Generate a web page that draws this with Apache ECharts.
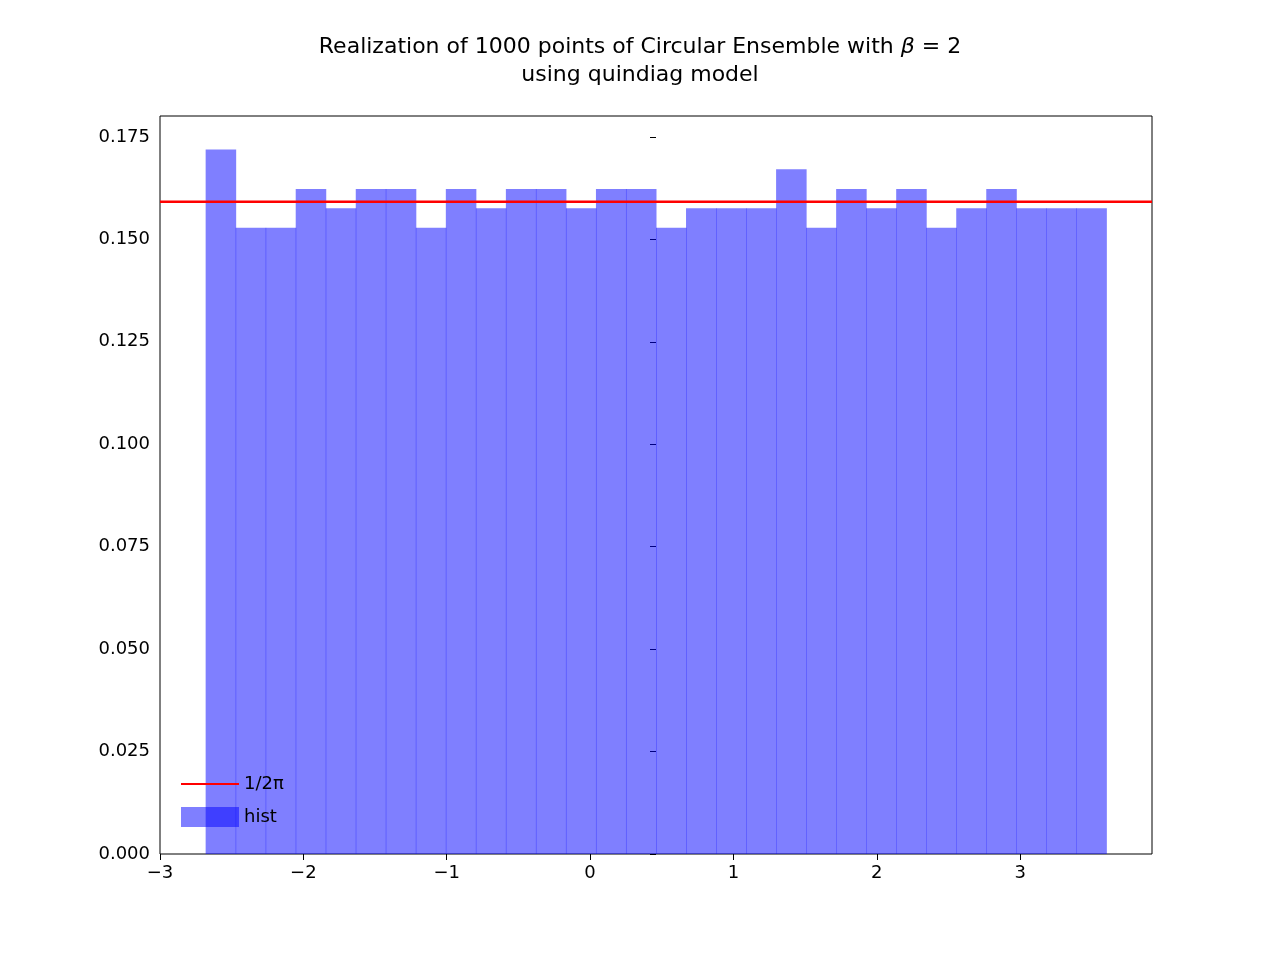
<!DOCTYPE html>
<html><head><meta charset="utf-8">
<script src="https://cdn.jsdelivr.net/npm/echarts@6/dist/echarts.min.js"></script>
<style>body{margin:0}#main{width:1280px;height:960px}</style>
</head><body><div id="main"></div>
<script>
// histogram: 30 bins over [-pi, pi], density values
var binStart = -Math.PI, binWidth = 2 * Math.PI / 30;
var density = [0.1719,0.1528,0.1528,0.1623,0.1576,0.1623,0.1623,0.1528,0.1623,0.1576,
               0.1623,0.1623,0.1576,0.1623,0.1623,0.1528,0.1576,0.1576,0.1576,0.1671,
               0.1528,0.1623,0.1576,0.1623,0.1528,0.1576,0.1623,0.1576,0.1576,0.1576];
var refLevel = 0.1592;
var yTicks = [0, 0.025, 0.05, 0.075, 0.1, 0.125, 0.15, 0.175];

var bins = density.map(function(d, i){
	return [binStart + i * binWidth, binStart + (i + 1) * binWidth, d];
});

var myChart = echarts.init(document.getElementById('main'));
var font = 'DejaVu Sans';
option = {
	textStyle: {fontFamily: font},
	title: {
		text: 'Realization of 1000 points of Circular Ensemble with {b|β} = 2\nusing quindiag model',
		left: 'center', top: 28,
		textStyle: {fontSize: 22, fontWeight: 'normal', color: '#000', lineHeight: 28,
			rich: {b: {fontStyle: 'italic', fontSize: 22}}}
	},
	legend: {
		orient: 'vertical', left: 176, bottom: 128, itemGap: 14,
		itemWidth: 58, itemHeight: 20,
		textStyle: {fontSize: 18, color: '#000'},
		data: [{name: '1/2π', icon: 'path://M0,9 L60,9 L60,11 L0,11 Z'}, {name: 'hist', icon: 'rect'}]
	},
	grid: {left: 160, right: 128, top: 116, bottom: 106, show: true, borderColor: '#000', borderWidth: 1},
	xAxis: {
		type: 'value', min: -3.46, max: 3.46, interval: 1,
		splitLine: {show: false},
		axisLine: {show: false},
		axisTick: {show: true, length: 6, lineStyle: {color: '#000'}},
		axisLabel: {fontSize: 18, color: '#000', margin: 10,
			showMinLabel: false, showMaxLabel: false,
			formatter: function(v){ return String(Math.round(v)).replace('-', '−'); }},
		minInterval: 1
	},
	yAxis: {
		type: 'value', min: 0, max: 0.1801, interval: 0.025,
		splitLine: {show: false},
		axisLine: {show: false},
		axisTick: {show: true, length: 6, lineStyle: {color: '#000'}},
		axisLabel: {fontSize: 18, color: '#000', margin: 10, showMaxLabel: false,
			formatter: function(v){ return v.toFixed(3); }}
	},
	series: [
		{
			name: '1/2π', type: 'line', symbol: 'none', z: 5,
			lineStyle: {color: '#ff0000', width: 2.5}, itemStyle: {color: '#ff0000'},
			data: [[-3.46, refLevel], [3.46, refLevel]]
		},
		{
			name: 'hist', type: 'custom', itemStyle: {color: 'rgba(0,0,255,0.5)'},
			renderItem: function(params, api){
				var p0 = api.coord([api.value(0), api.value(2)]);
				var p1 = api.coord([api.value(1), 0]);
				return {type: 'rect',
					shape: {x: p0[0], y: p0[1], width: p1[0] - p0[0] + 0.5, height: p1[1] - p0[1]},
					style: {fill: 'rgba(0,0,255,0.5)'}};
			},
			encode: {x: [0, 1], y: 2},
			data: bins
		}
	]
};
option.xAxis.axisLabel.showMinLabel = true;
option.xAxis.min = -3.46;
myChart.setOption(option);
</script></body></html>
